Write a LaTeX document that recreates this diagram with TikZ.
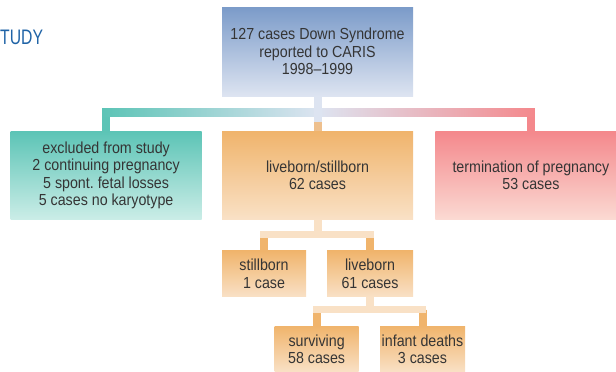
\documentclass[tikz,border=0pt]{standalone}
\usepackage{fontspec}
\setmainfont{Liberation Sans}[FakeStretch=0.89]
\newfontfamily\titlefont{Liberation Sans}[FakeStretch=0.75]
\usepackage{tikz}
\usetikzlibrary{positioning,calc}
\usepackage{xcolor}
\definecolor{txtgrey}{HTML}{353535}
\definecolor{titleblue}{HTML}{1F63A6}
\definecolor{blueA}{HTML}{7B9BC9}
\definecolor{blueB}{HTML}{DDE4F1}
\definecolor{tealA}{HTML}{5CC4B6}
\definecolor{tealB}{HTML}{CBEDE7}
\definecolor{orangeA}{HTML}{F0B46C}
\definecolor{orangeB}{HTML}{F9E1C6}
\definecolor{orangeD}{HTML}{EEC08E}
\definecolor{pinkA}{HTML}{F4888C}
\definecolor{pinkB}{HTML}{FBDAD3}

\begin{document}
\begin{tikzpicture}[%
    x=1pt,y=-1pt,node distance=20pt,box/.style={%
      rectangle,inner sep=0pt,align=center,text=txtgrey,
      font=\fontsize{16}{17.5}\selectfont,
      minimum width=191pt,minimum height=88pt},
    small/.style={%
      box,top color=orangeA,bottom color=orangeB,
      minimum width=84pt,minimum height=46pt},
    stem/.style={line width=8pt},
    bar/.style={line width=7.5pt,line cap=rect}
  ]
    \useasboundingbox (0,0) rectangle (616,372);
    \clip (0,0) rectangle (616,372);
    \node[anchor=base west,inner sep=0pt,text=titleblue,font=\titlefont\fontsize{21}{21}\selectfont] (title) at (0,44) {TUDY};
    \node[box,top color=blueA,bottom color=blueB,minimum height=89pt] (top) at (317.5,51.5)
          {127 cases Down Syndrome\\reported to CARIS\\1998--1999};
    \node[box,top color=orangeA,bottom color=orangeB] (mid) [below=35pt of top]
          {liveborn/stillborn\\62 cases};
    \node[box,top color=tealA,bottom color=tealB] (excl) [left=20pt of mid]
          {excluded from study\\2 continuing pregnancy\\5 spont.\ fetal losses\\5 cases no karyotype};
    \node[box,top color=pinkA,bottom color=pinkB] (term) [right=22pt of mid]
          {termination of pregnancy\\53 cases};
    \node[small] (still) [below=31pt of mid.south west,anchor=north west] {stillborn\\1 case};
    \node[small,minimum width=86pt] (live) [below=31pt of mid.south east,anchor=north east] {liveborn\\61 cases};
    \node[small] (surv) [below=29pt of live.south west,anchor=north east,xshift=32pt] {surviving\\58 cases};
    \node[small,minimum width=85pt] (dead) [right=21pt of surv] {infant deaths\\3 cases};

    % first split
    \coordinate (b1) at (0,112);
    \coordinate (b1l) at (excl.north |- b1);
    \coordinate (b1r) at (term.north |- b1);
    \coordinate (b1m) at ($(mid.north)+(0,-9)$);
    \draw[stem,tealA] (b1l) -- (excl.north);
    \draw[stem,pinkA] (b1r) -- (term.north);
    \shade[left color=tealA,right color=pinkA,middle color=blueB]
          ([shift={(-4pt,4pt)}]b1l) rectangle ([shift={(4pt,-4pt)}]b1r);
    \draw[stem,blueB] (top.south) -- (b1m);
    \draw[stem,orangeD] (b1m) -- (mid.north);

    % second split
    \coordinate (b2) at (0,234.5);
    \draw[stem,orangeB] (mid.south) -- (mid.south |- b2);
    \draw[stem,orangeA] (still.north |- b2) -- (still.north);
    \draw[stem,orangeA] (live.north |- b2) -- (live.north);
    \draw[bar,orangeB] (still.north |- b2) -- (live.north |- b2);

    % third split
    \coordinate (b3) at (0,309.5);
    \draw[stem,orangeB] (live.south) -- (live.south |- b3);
    \draw[stem,orangeA] (surv.north |- b3) -- (surv.north);
    \draw[stem,orangeA] (dead.north |- b3) -- (dead.north);
    \draw[bar,orangeB] (surv.north |- b3) -- (dead.north |- b3);
\end{tikzpicture}
\end{document}
